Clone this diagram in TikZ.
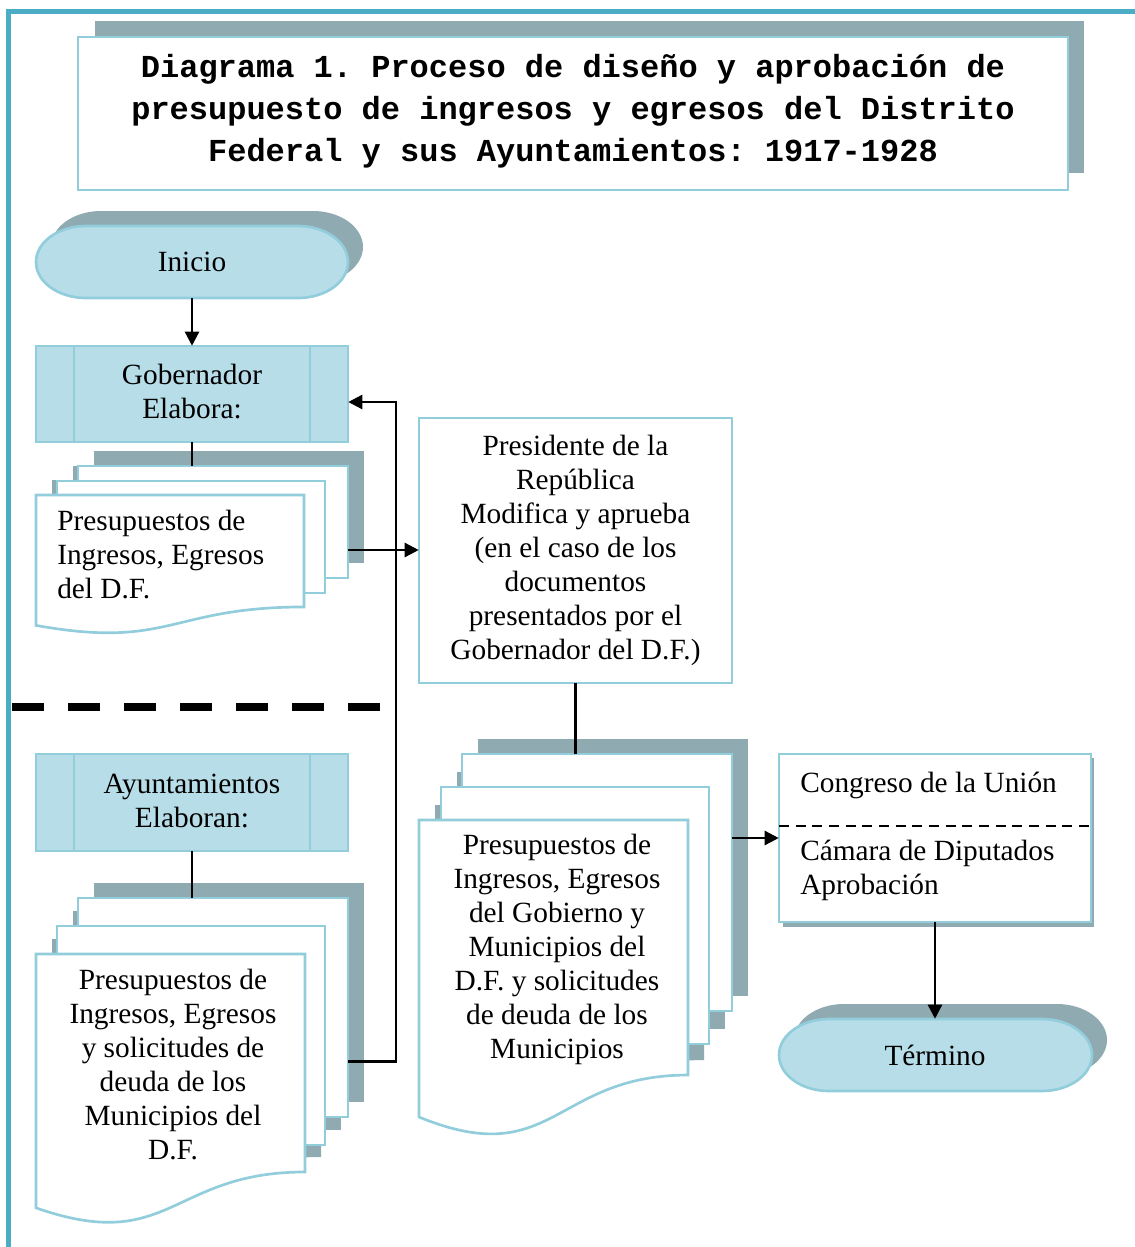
\documentclass[tikz,border=0pt]{standalone}
\usepackage{fontspec}
\setmainfont{Liberation Serif}
\setmonofont{Liberation Mono}
\usepackage{xcolor}
\usepackage{tikz}
\usetikzlibrary{arrows.meta,calc}
\definecolor{marco}{HTML}{4BACC6}
\definecolor{sombra}{HTML}{8FAAB1}
\definecolor{celeste}{HTML}{B7DDE8}
\definecolor{borde}{HTML}{92CDDC}

% page with wavy bottom: x1, y1, x2, h
\newcommand{\hojadoc}[5][]{%
  \draw[#1] (#2,#3) -- (#4,#3) -- (#4,{#3+0.802*#5}) .. controls ({(#2+#4)/2},{#3+0.802*#5}) and ({(#2+#4)/2},{#3+1.107*#5}) .. (#2,{#3+0.934*#5}) -- cycle;}
% terminal: x1, y1, x2, y2
\newcommand{\terminal}[5][]{%
  \draw[#1] ({#2+50},#3) -- ({#4-50},#3) arc[start angle=-90, end angle=90, x radius=50, y radius={(#5-#3)/2}] -- ({#2+50},#5) arc[start angle=90, end angle=270, x radius=50, y radius={(#5-#3)/2}] -- cycle;}

\begin{document}
\begin{tikzpicture}[x=0.75pt,y=0.75pt,yscale=-1,xscale=1,
  pagina/.style={draw=borde, fill=white, line width=2pt},
  caja/.style={draw=borde, fill=celeste, line width=2pt},
  sombreado/.style={fill=sombra, draw=none},
  texto/.style={inner sep=0pt, align=center, font=\fontsize{22}{25.5}\selectfont},
  flecha/.style={line width=1.8pt, -{Triangle[length=10.5pt,width=10.5pt]}},
  linea/.style={line width=1.8pt}]
\useasboundingbox (0,0) rectangle (1135,1247);

%Shape: Frame
\draw[draw=marco, line width=3.75pt] (8.5,1247) -- (8.5,11.5) -- (1135,11.5);

%Shape: Title box
\fill[sombra] (95,21) rectangle (1084,173);
\draw[pagina] (78,37) rectangle (1068,190);

%Shape: Inicio
\terminal[sombreado]{51}{211}{363}{283}
\terminal[caja]{36}{226}{348}{298}

%Shape: Gobernador
\draw[caja] (36,346) rectangle (348,442);
\draw[draw=borde, line width=2pt] (74,346) -- (74,442) (310,346) -- (310,442);

%Shape: Stack of documents (Gobernador)
\fill[sombra] (94,451) rectangle (364,563);
\fill[sombra] (73,466) rectangle (341,578);
\hojadoc[sombreado]{52}{480}{320}{139.6}
\draw[pagina] (78,466) rectangle (348,578);
\draw[pagina] (57,481) rectangle (325,593);
\hojadoc[pagina]{36}{495}{304}{139.6}

%Straight Lines: separation
\draw[line width=6pt, dash pattern=on 24pt off 18pt] (12,707) -- (380,707);

%Shape: Ayuntamientos
\draw[caja] (36,754) rectangle (348,851);
\draw[draw=borde, line width=2pt] (74,754) -- (74,851) (310,754) -- (310,851);

%Shape: Stack of documents (Ayuntamientos)
\fill[sombra] (94,883) rectangle (364,1102);
\fill[sombra] (73,911) rectangle (341,1130);
\hojadoc[sombreado]{52}{939}{321}{271.8}
\draw[pagina] (78,898) rectangle (348,1117);
\draw[pagina] (57,926) rectangle (325,1145);
\hojadoc[pagina]{36}{954}{305}{271.8}

%Shape: Presidente
\draw[pagina] (419,418) rectangle (732,683);

%Shape: Stack of documents (Presidente)
\fill[sombra] (478,739) rectangle (748,996);
\fill[sombra] (457,772) rectangle (725,1029);
\hojadoc[sombreado]{435}{805}{704}{318}
\draw[pagina] (462,754) rectangle (732,1011);
\draw[pagina] (441,787) rectangle (709,1044);
\hojadoc[pagina]{419}{820}{688}{318}

%Shape: Congreso
\fill[sombra] (783,758) rectangle (1094,927);
\draw[pagina] (779,754) rectangle (1091,922);
\draw[line width=1.5pt, dash pattern=on 7.5pt off 5pt] (779,826) -- (1090,826);

%Shape: Termino
\terminal[sombreado]{794}{1004}{1107}{1076}
\terminal[caja]{779}{1019}{1092}{1091}

% Text Node
\node[inner sep=0pt, align=center, font=\ttfamily\bfseries\fontsize{24}{31.5}\selectfont] (title) at (573,111) {Diagrama 1. Proceso de diseño y aprobación de\\presupuesto de ingresos y egresos del Distrito\\Federal y sus Ayuntamientos: 1917-1928};
% Text Node
\node[texto, minimum width=234pt, minimum height=54pt] (inicio) at (192,262) {Inicio};
% Text Node
\node[texto, minimum width=234pt, minimum height=72pt] (gober) at (192,394) {};
\node[texto] (gobertxt) at (192,392) {Gobernador\\Elabora:};
\node[texto, minimum width=234pt, minimum height=126pt] (docA) at (192,550) {};
\node[texto, anchor=west, align=left] (docAtxt) at (57,555) {Presupuestos de\\Ingresos, Egresos\\del D.F.};
% Text Node
\node[texto, minimum width=234pt, minimum height=72.75pt] (ayunt) at (192,802.5) {};
\node[texto] (ayunttxt) at (192,800.5) {Ayuntamientos\\Elaboran:};
\node[texto, minimum width=234pt, minimum height=245.25pt] (docB) at (192,1061.5) {};
\node[texto] (docBtxt) at (173,1065) {Presupuestos de\\Ingresos, Egresos\\y solicitudes de\\deuda de los\\Municipios del\\D.F.};
% Text Node
\node[texto, minimum width=234.75pt, minimum height=198.75pt] (presi) at (575.5,550.5) {};
\node[texto] (presitxt) at (575.5,550) {Presidente de la\\República\\Modifica y aprueba\\(en el caso de los\\documentos\\presentados por el\\Gobernador del D.F.)};
\node[texto, minimum width=234.75pt, minimum height=288pt] (docC) at (575.5,946) {};
\node[texto] (docCtxt) at (557,949) {Presupuestos de\\Ingresos, Egresos\\del Gobierno y\\Municipios del\\D.F. y solicitudes\\de deuda de los\\Municipios};
% Text Node
\node[texto, minimum width=234pt, minimum height=126pt] (congreso) at (935,838) {};
\node[texto, anchor=west] (union) at (800,785) {Congreso de la Unión};
\node[texto, anchor=west, align=left] (camara) at (800,870) {Cámara de Diputados\\Aprobación};
% Text Node
\node[texto, minimum width=234.75pt, minimum height=54pt] (termino) at (935,1055) {Término};

%Connectors
\coordinate (gobin) at ($(gober.east)+(0,8)$);
\draw[flecha] (inicio) -- (gober);
\draw[linea] (gober) -- (docA);
\draw[flecha] (docA.east) -- (docA.east -| presi.west);
\draw[flecha] (docB.east) -| ($(gobin)+(48,0)$) -- (gobin);
\draw[linea] (ayunt) -- (docB);
\draw[linea] (presi) -- (docC);
\draw[flecha] (docC.east |- congreso.west) -- (congreso.west);
\draw[flecha] (congreso) -- (termino);

\end{tikzpicture}
\end{document}
